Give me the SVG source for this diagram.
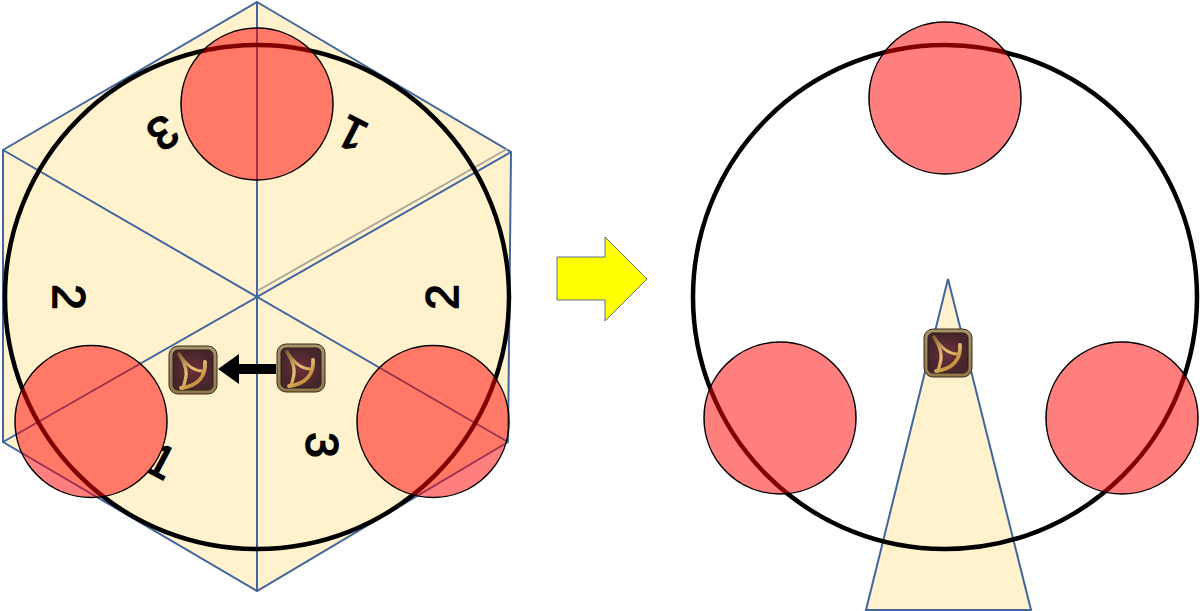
<svg xmlns="http://www.w3.org/2000/svg" width="1200" height="611" viewBox="0 0 1200 611">
<style>
.wedge{fill:#fff2cc;stroke:none}
.edge{fill:none;stroke:#41659f;stroke-width:2}
.ring{fill:none;stroke:#000;stroke-width:4.5}
.red{fill:#ff0000;fill-opacity:.5;stroke:#000;stroke-width:1.5}
.num{font-family:"Liberation Sans",Arial,sans-serif;font-size:46px;fill:#000;stroke:#000;stroke-width:1.6;text-anchor:middle;dominant-baseline:central;font-weight:400}
.bow{fill:none;stroke:url(#bowc);stroke-linecap:round;stroke-linejoin:round}
</style>
<defs>
<linearGradient id="frame" x1="0" y1="0" x2="0" y2="1"><stop offset="0" stop-color="#a8936c"/><stop offset="1" stop-color="#8f7748"/></linearGradient>
<linearGradient id="bowc" gradientUnits="userSpaceOnUse" x1="10" y1="10" x2="38" y2="44"><stop offset="0" stop-color="#8a6430"/><stop offset=".45" stop-color="#e8c276"/><stop offset=".75" stop-color="#c4923f"/><stop offset="1" stop-color="#f0d898"/></linearGradient>
<radialGradient id="bg"><stop offset="0" stop-color="#6a3239"/><stop offset="1" stop-color="#47252c"/></radialGradient>
<clipPath id="outside-left-red"><path clip-rule="evenodd" d="M100 400H220V500H100Z M15 421.500a76 76 0 1 0 152 0a76 76 0 1 0 -152 0Z"/></clipPath>
<g id="icon">
<rect x="1" y="1" width="48" height="48" rx="9" fill="url(#frame)" stroke="#3a2a1c" stroke-width="1"/>
<rect x="5" y="5" width="40" height="40" rx="5" fill="url(#bg)" stroke="#2e1e1a" stroke-width="1"/>
<path class="bow" stroke-width="3.200" d="M11 9 C17 18 20 27 17 36 L15 43"/>
<path class="bow" stroke-width="3" d="M11 9 C17 18 25 26 34 26"/>
<path class="bow" stroke-width="3.800" d="M37 17 C38 30 31 41 13 43"/>
</g>
</defs>

<g id="left-hexagon">
<polygon class="wedge" points="257,2 511,152 508,442 257,591 3,442 3,150"/>
</g>
<g id="connectors">
<polygon class="edge" points="257,2 511,152 508,442 257,591 3,442 3,150"/>
<line class="edge" x1="257" y1="2" x2="257" y2="591"/>
<line class="edge" x1="3" y1="150" x2="508" y2="442"/>
<line class="edge" x1="3" y1="442" x2="511" y2="152"/>
<line x1="257" y1="291" x2="507" y2="149" stroke="#a9a99c" stroke-width="2"/>
<polygon points="276,364 239,364 239,354 218,369 239,384 239,374 276,374" fill="#000"/>
</g>
<g id="left-ring"><circle class="ring" cx="257" cy="297" r="252"/></g>
<g id="labels">
<text class="num" transform="translate(163 133) rotate(145)">3</text>
<text class="num" transform="translate(352 134) rotate(-153)">1</text>
<text class="num" transform="translate(69 297) rotate(90)">2</text>
<text class="num" transform="translate(442 297) rotate(-90)">2</text>
<text class="num" transform="translate(322 445) rotate(90)">3</text>
<g clip-path="url(#outside-left-red)"><text class="num" transform="translate(161 461) rotate(28)">1</text></g>
</g>
<g id="left-red-top"><circle class="red" cx="257" cy="104" r="76"/></g>
<g id="left-red-left"><circle class="red" cx="91" cy="421.500" r="76"/></g>
<g id="left-red-right"><circle class="red" cx="433" cy="421.500" r="76"/></g>
<g id="icon-left"><use href="#icon" x="168" y="345"/></g>
<g id="icon-mid"><use href="#icon" x="276" y="343"/></g>

<g id="yellow-arrow"><polygon points="557,257 605,257 605,237 647,279 605,321 605,300 557,300" fill="#ffff00" stroke="#5b6e8f" stroke-width="1"/></g>

<g id="right-wedge"><polygon points="948,279 1031,610 866,610" fill="#fff2cc" stroke="#41659f" stroke-width="2"/></g>
<g id="right-ring"><circle class="ring" cx="945" cy="297" r="252"/></g>
<g id="right-red-top"><circle class="red" cx="945" cy="98" r="76"/></g>
<g id="right-red-left"><circle class="red" cx="780" cy="418" r="76"/></g>
<g id="right-red-right"><circle class="red" cx="1122" cy="418" r="76"/></g>
<g id="icon-right"><use href="#icon" x="923" y="328"/></g>
</svg>
